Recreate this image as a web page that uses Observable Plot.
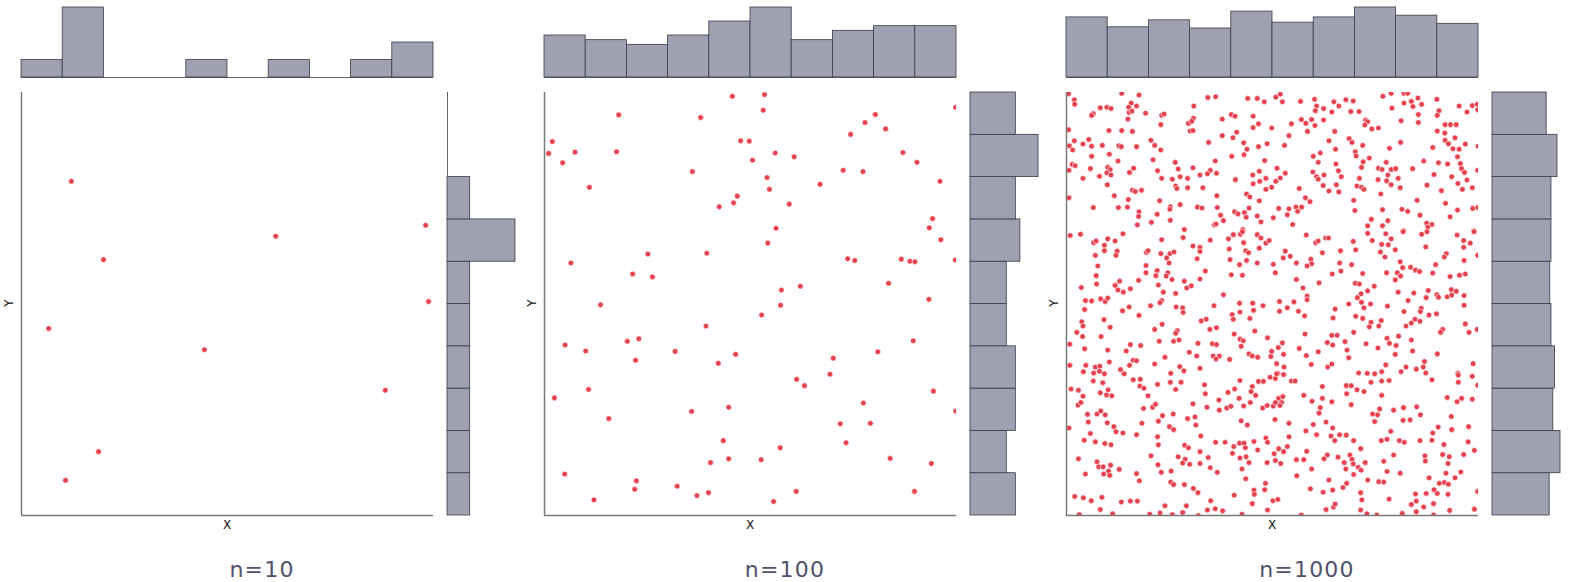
<!DOCTYPE html>
<html><head><meta charset="utf-8">
<script src="https://cdn.jsdelivr.net/npm/d3@7"></script>
<script src="https://cdn.jsdelivr.net/npm/@observablehq/plot@0.6"></script>
<style>
body{margin:0;background:#fff;}
#root{position:relative;width:1569px;height:582px;overflow:hidden;background:#fff;}
</style>
</head><body><div id="root"></div>
<script>
// ---------- data (values in 0–100 units) ----------
const titles = ["n=10", "n=100", "n=1000"];

const points10 = [[12.1,79.0],[19.9,60.5],[6.6,44.2],[61.7,66.0],[98.1,68.6],[98.8,50.6],[44.4,39.2],[88.3,29.6],[18.7,15.1],[10.7,8.3]];

const points100 = [[45.6,99.1],[18.0,94.7],[37.9,94.1],[1.9,88.4],[47.6,88.6],[49.7,88.5],[1.0,85.6],[7.4,85.9],[17.5,86.0],[4.4,83.4],[50.5,84.0],[35.9,81.3],[10.9,77.6],[46.8,75.5],[45.9,73.9],[42.4,73.0],[25.1,61.8],[39.4,62.0],[6.4,59.7],[21.4,57.1],[26.2,56.4],[13.6,49.8],[39.2,44.8],[5.0,40.3],[10.0,38.9],[20.1,41.2],[22.9,41.8],[22.1,36.7],[31.7,38.8],[46.4,38.1],[42.2,36.0],[2.4,27.8],[10.7,29.8],[15.6,22.9],[35.7,24.6],[44.7,25.6],[43.4,17.7],[40.3,12.5],[44.7,13.4],[4.9,9.8],[22.3,8.2],[21.9,6.2],[32.2,6.9],[37.0,4.7],[39.8,5.4],[12.0,3.7],
[53.4,99.5],[53.1,95.8],[99.8,96.5],[80.3,94.8],[77.8,92.9],[82.8,91.4],[74.3,90.1],[56.0,85.7],[60.6,84.8],[87.0,85.8],[90.4,83.5],[72.5,81.6],[77.3,81.3],[96.0,79.0],[54.0,79.9],[54.6,77.1],[66.9,78.3],[59.4,73.6],[94.2,70.2],[93.4,68.0],[96.2,65.2],[56.2,67.9],[54.2,64.4],[73.6,60.7],[75.3,60.3],[86.6,60.6],[88.7,60.1],[89.9,60.0],[99.7,60.4],[57.5,53.3],[62.1,54.2],[83.5,54.9],[57.3,49.7],[52.7,47.4],[93.3,51.1],[89.5,41.3],[80.9,38.7],[70.1,37.2],[69.3,33.4],[61.2,32.2],[63.1,30.7],[94.4,29.4],[99.8,24.7],[77.4,26.6],[71.8,21.7],[79.1,21.8],[73.2,17.2],[57.2,16.0],[52.6,13.2],[83.9,13.5],[93.9,12.3],[61.1,5.7],[89.8,5.7],[55.6,3.3]];

const points1000 = [
[0.5,99.7],[13.4,99.8],[17.6,99.4],[1.9,98.3],[2.0,97.2],[15.7,97.5],[17.0,96.8],[15.1,96.5],[30.9,96.8],[8.2,96.4],[9.8,96.5],[10.8,96.2],[6.5,95.0],[6.1,94.6],[15.2,95.3],[15.9,95.6],[19.2,95.1],[23.1,94.6],[23.7,94.9],[30.8,93.9],[14.9,93.7],[29.6,92.7],[30.4,93.2],[22.9,92.4],[0.5,91.2],[10.3,91.0],[13.4,91.0],[16.0,90.8],[30.0,90.9],[30.7,91.0],[5.4,88.9],[1.9,88.6],[20.5,88.7],[0.7,87.4],[4.0,87.8],[6.1,87.3],[8.7,87.5],[12.7,87.4],[13.3,87.2],[17.0,87.2],[21.4,87.5],[1.5,86.4],[22.9,86.4],[10.4,85.4],[6.1,84.9],[21.0,84.1],[12.5,83.8],[26.4,83.5],[1.4,83.0],[2.1,82.7],[5.8,82.0],[10.0,82.3],[10.6,81.8],[16.3,82.1],[0.6,81.6],[9.8,81.0],[10.8,80.5],[15.3,81.1],[22.1,81.5],[27.1,81.9],[30.7,82.2],[8.0,80.2],[4.0,79.7],[23.1,79.7],[25.7,79.5],[27.6,80.1],[29.4,79.7],[32.4,80.5],[9.9,78.2],[26.5,77.9],[26.8,77.3],[29.4,77.5],[16.0,76.9],[16.7,76.6],[18.2,76.9],[11.6,75.6],[0.6,75.1],[15.0,74.7],[22.6,74.4],[27.6,73.5],[6.5,72.8],[12.6,72.8],[14.8,72.9],[25.2,73.0],[25.1,72.4],[31.8,72.9],[17.6,71.8],[17.5,70.7],[22.0,71.2],[25.2,69.8],[20.6,69.3],[17.2,68.7],[28.6,67.6],
[34.3,98.8],[36.2,99.0],[44.0,98.6],[46.3,98.6],[48.0,97.8],[50.8,98.9],[51.9,99.6],[52.4,97.8],[56.8,97.9],[60.2,98.4],[60.7,96.8],[60.4,95.7],[62.4,96.2],[64.9,97.8],[66.1,96.8],[40.0,94.8],[40.9,94.4],[45.3,94.4],[37.8,93.7],[57.0,93.6],[58.1,92.7],[59.5,93.6],[60.3,92.2],[62.4,93.5],[64.4,95.4],[46.6,92.6],[45.3,91.7],[49.8,91.6],[54.6,92.6],[41.3,90.6],[40.4,89.3],[37.8,89.8],[58.5,90.8],[54.0,89.8],[65.1,90.8],[34.5,88.2],[43.0,88.1],[43.8,86.6],[46.6,87.2],[48.7,87.9],[52.9,87.5],[63.7,88.6],[65.3,86.6],[40.1,84.9],[43.1,85.3],[48.1,83.9],[61.6,85.7],[59.9,84.9],[36.1,83.8],[61.1,83.5],[65.4,83.1],[34.9,81.6],[34.2,80.8],[36.4,80.9],[51.1,82.1],[46.8,81.4],[45.2,80.5],[59.8,81.2],[66.0,81.5],[48.4,79.7],[46.9,79.0],[51.9,79.8],[53.1,80.9],[60.7,80.1],[61.1,79.5],[62.5,80.5],[41.0,79.4],[65.5,78.2],[33.1,77.5],[45.3,78.4],[50.8,79.0],[49.8,77.6],[48.4,77.1],[62.3,78.0],[56.5,77.3],[63.7,76.7],[66.1,76.5],[43.7,76.0],[44.5,75.3],[36.5,75.6],[46.8,74.4],[58.0,75.1],[59.1,74.2],[32.9,72.7],[36.6,72.8],[44.3,72.7],[51.5,72.6],[54.0,72.5],[55.7,72.9],[57.1,72.9],[56.1,71.9],[40.8,71.8],[41.6,71.3],[43.2,71.6],[43.6,70.5],[37.4,71.0],[46.3,70.8],[50.2,70.4],[53.6,71.1],[38.1,69.7],[47.2,69.4],[35.9,68.7],[36.3,68.9],[54.9,68.8],[42.8,67.6],
[67.8,98.3],[69.6,98.0],[69.0,95.5],[71.0,95.5],[76.8,99.1],[78.8,99.8],[81.9,99.8],[82.8,99.8],[79.0,96.3],[81.9,97.5],[83.7,97.9],[84.1,96.7],[85.3,98.7],[86.2,97.2],[89.9,98.4],[85.4,94.8],[85.4,92.9],[90.4,95.7],[90.0,94.6],[95.3,96.8],[97.2,95.4],[98.5,96.9],[99.7,97.2],[99.8,95.9],[72.6,93.5],[73.1,93.1],[72.4,92.3],[74.1,91.4],[75.7,91.6],[81.2,93.3],[91.9,92.4],[93.2,92.4],[94.6,92.4],[90.0,90.9],[91.8,90.4],[68.6,89.1],[69.3,88.2],[71.9,87.5],[81.1,88.2],[78.4,86.8],[88.9,87.0],[91.9,88.7],[92.7,87.9],[94.3,89.3],[93.8,86.7],[95.3,86.6],[96.8,87.8],[99.9,87.3],[70.1,86.0],[70.3,85.0],[73.5,84.5],[72.0,83.6],[77.6,83.5],[86.7,83.8],[90.3,83.4],[92.5,83.1],[94.9,84.8],[95.6,83.2],[95.9,82.0],[96.6,81.1],[99.8,81.6],[71.6,82.3],[75.7,82.1],[76.6,81.8],[78.8,81.8],[79.9,82.0],[84.0,82.0],[78.0,80.5],[66.7,80.1],[71.1,79.7],[75.6,79.4],[77.7,79.1],[80.5,79.7],[89.2,80.6],[93.5,80.1],[97.2,79.3],[78.8,78.2],[70.5,77.9],[71.6,77.6],[72.2,77.1],[81.0,77.5],[87.5,78.1],[95.0,78.5],[96.1,77.1],[98.5,77.5],[76.3,76.0],[91.0,76.8],[69.7,74.5],[85.1,74.5],[92.0,73.8],[70.0,72.1],[76.7,72.3],[81.4,72.4],[82.8,71.9],[85.8,71.0],[94.9,72.2],[93.1,70.6],[98.6,72.6],[99.8,72.8],[74.0,70.0],[78.0,69.7],[73.1,68.5],[76.7,68.5],[87.4,69.1],[88.7,68.8],[87.7,68.2],[81.8,67.3],[98.9,67.3],
[0.9,66.2],[3.4,66.5],[13.7,66.6],[6.6,64.5],[7.2,64.9],[10.0,65.4],[9.2,63.9],[9.2,62.6],[11.8,64.9],[12.3,62.5],[12.0,61.5],[7.0,61.5],[23.1,65.2],[28.3,65.7],[30.7,63.7],[32.4,63.4],[19.4,62.2],[19.8,62.6],[22.9,61.9],[25.1,61.9],[26.1,62.3],[24.3,60.9],[24.9,59.7],[31.7,60.7],[32.4,62.4],[7.6,59.0],[19.3,59.1],[19.3,57.4],[22.0,57.9],[21.7,56.7],[24.6,57.4],[24.2,56.6],[25.6,55.8],[7.2,56.7],[7.3,54.7],[17.5,55.6],[12.9,55.4],[11.8,54.4],[12.5,53.3],[13.8,52.8],[15.5,53.6],[22.3,54.5],[23.5,52.8],[28.6,55.4],[29.2,53.8],[30.3,54.3],[32.4,55.9],[3.6,53.9],[26.5,52.5],[4.6,50.8],[6.1,50.7],[8.3,51.2],[9.4,50.6],[10.0,51.4],[23.1,50.8],[22.7,50.3],[20.4,49.6],[26.6,49.3],[28.2,49.1],[28.3,48.0],[4.4,48.7],[13.6,48.4],[15.2,49.3],[17.6,47.3],[9.1,46.3],[3.7,45.8],[4.0,44.8],[10.6,44.5],[23.2,45.2],[21.4,44.0],[2.5,43.3],[3.9,42.3],[8.4,42.3],[26.9,43.7],[26.5,43.1],[0.8,40.5],[4.4,39.4],[10.0,39.1],[15.5,40.4],[18.0,40.2],[22.5,41.2],[26.0,41.2],[27.3,41.5],[31.9,40.7],[14.5,38.9],[29.8,38.6],[31.6,37.7],[23.9,37.4],[16.2,36.7],[17.0,36.6],[10.4,36.3],[0.8,35.5],[4.7,35.5],[7.0,35.1],[8.1,35.3],[8.0,34.1],[9.2,33.5],[15.3,35.5],[21.4,35.8],[13.1,34.5],[27.5,35.2],[28.5,34.2],[32.4,34.8],[4.1,34.0],[6.6,33.7],[14.0,33.5],[25.3,33.6],
[34.9,65.1],[39.3,65.4],[40.5,66.4],[42.2,66.5],[42.7,67.1],[46.3,66.4],[47.2,65.6],[48.4,64.4],[49.2,65.0],[43.0,64.5],[46.8,63.2],[39.5,63.0],[43.5,62.6],[44.2,62.1],[39.7,60.5],[42.0,59.3],[43.7,60.3],[46.3,59.7],[50.2,59.4],[50.7,57.4],[53.1,62.5],[52.6,60.9],[54.3,61.3],[55.8,59.7],[58.2,66.3],[60.5,64.5],[61.1,64.9],[62.9,65.6],[63.6,65.6],[62.1,62.1],[59.3,60.6],[59.5,59.5],[58.4,59.0],[64.5,57.1],[33.7,57.8],[40.0,56.9],[42.7,56.8],[55.8,55.8],[61.3,55.0],[57.4,53.8],[38.1,52.2],[58.4,51.9],[58.4,51.0],[35.8,49.6],[42.0,50.2],[45.2,50.2],[45.4,48.5],[42.1,48.1],[47.7,49.6],[51.7,50.6],[51.7,48.3],[53.6,49.1],[55.2,50.5],[56.3,48.3],[57.8,47.2],[65.2,48.8],[40.2,47.5],[40.5,46.4],[44.5,46.6],[64.7,46.7],[32.7,46.0],[33.9,46.4],[36.4,44.4],[34.8,44.0],[40.7,42.9],[45.7,43.6],[48.8,42.0],[42.1,41.7],[42.9,41.3],[42.4,40.0],[35.4,40.6],[36.4,40.4],[52.4,40.8],[51.4,39.7],[57.9,42.9],[56.5,39.5],[64.4,42.6],[65.7,42.6],[64.6,40.3],[63.3,40.9],[49.8,38.8],[49.6,37.6],[52.7,38.1],[44.3,38.2],[45.1,37.7],[46.4,37.4],[35.6,37.7],[37.1,37.7],[36.3,37.0],[39.6,36.9],[58.2,37.8],[61.1,38.7],[51.0,35.9],[52.8,35.1],[59.4,35.7],[63.4,35.1],[64.4,35.8],[51.3,33.6],
[73.1,66.7],[77.5,66.6],[78.8,65.4],[81.7,67.1],[86.2,66.5],[87.5,67.1],[94.8,66.3],[98.9,67.1],[69.6,64.8],[74.2,65.0],[76.5,64.1],[78.1,64.0],[66.5,62.6],[70.2,62.8],[76.2,62.3],[77.3,61.1],[79.8,62.8],[87.2,63.5],[96.4,65.0],[98.0,64.4],[96.4,63.4],[99.8,61.5],[92.2,61.9],[91.7,61.1],[96.5,60.3],[66.3,59.7],[69.2,59.3],[81.0,60.0],[81.6,58.6],[83.5,58.7],[84.7,58.0],[85.7,57.7],[89.6,59.3],[66.6,57.8],[71.9,57.2],[77.7,57.4],[80.3,57.4],[81.1,56.6],[79.8,55.7],[88.9,57.3],[93.1,56.5],[95.4,56.8],[96.8,57.1],[70.1,54.9],[71.1,54.7],[74.7,54.2],[73.1,53.1],[80.5,52.8],[84.3,52.6],[87.8,53.2],[89.9,52.2],[90.3,51.6],[92.4,51.7],[93.5,52.1],[93.4,53.4],[94.6,53.0],[96.5,52.0],[71.5,52.4],[70.6,51.5],[71.6,50.4],[73.8,50.0],[68.5,50.0],[82.9,50.8],[87.3,51.5],[72.2,49.1],[77.9,49.5],[86.1,49.0],[85.9,48.2],[81.9,48.2],[88.0,47.4],[89.8,47.7],[96.5,49.7],[70.2,47.1],[71.9,46.6],[73.9,45.7],[76.4,46.1],[75.8,44.8],[73.5,44.6],[84.6,46.4],[83.7,45.5],[85.8,45.9],[82.4,44.8],[96.8,45.3],[99.7,44.0],[91.3,44.0],[90.8,43.3],[97.7,43.3],[69.7,43.3],[80.6,42.4],[77.8,41.9],[78.4,40.7],[67.6,41.1],[72.7,40.6],[75.6,39.6],[80.0,40.2],[83.7,41.5],[84.0,38.9],[68.1,39.1],[68.5,37.3],[79.8,38.1],[90.0,38.2],[77.5,35.6],[86.9,36.4],[98.7,35.9],[82.4,35.1],[84.9,34.6],[86.6,35.1],[81.2,34.0],[70.9,33.7],[73.0,33.6],[74.8,33.5],[76.5,34.0],[87.2,33.7],[95.0,33.6],
[16.2,32.1],[17.9,32.2],[6.5,31.8],[8.8,31.4],[25.2,31.5],[27.8,31.5],[1.1,29.9],[2.9,29.6],[4.0,28.2],[8.2,29.0],[9.7,28.5],[11.0,28.3],[10.1,29.7],[17.8,30.6],[18.8,30.1],[19.8,28.3],[22.1,31.0],[26.5,29.8],[2.8,26.1],[3.5,26.7],[18.7,25.3],[20.9,25.6],[21.6,26.3],[30.7,26.4],[5.1,23.9],[7.4,24.0],[8.3,24.7],[9.4,23.8],[23.3,23.6],[22.3,22.3],[25.9,24.0],[29.4,22.9],[31.2,23.3],[5.3,22.1],[9.9,21.9],[18.3,21.8],[31.4,21.4],[11.5,21.0],[12.0,19.8],[13.7,19.5],[17.0,19.1],[25.0,21.0],[26.0,20.3],[0.6,20.7],[5.8,19.4],[22.1,18.6],[32.6,18.8],[4.3,17.8],[7.0,17.4],[9.3,17.0],[10.8,16.7],[22.3,16.7],[28.7,16.6],[29.6,16.0],[32.4,15.1],[20.5,14.1],[27.1,13.9],[28.8,13.3],[28.2,12.4],[29.9,12.1],[32.4,12.3],[2.9,13.4],[7.4,12.7],[7.8,11.5],[8.9,11.5],[10.7,11.9],[10.2,10.5],[9.0,9.8],[10.5,9.5],[12.8,10.9],[22.2,12.0],[23.0,10.2],[25.4,10.5],[4.6,9.8],[17.0,9.9],[17.7,8.2],[25.3,7.9],[26.0,7.3],[28.6,7.3],[30.8,6.4],[31.9,5.4],[2.0,4.5],[4.1,4.2],[6.0,3.5],[8.6,4.3],[13.3,3.2],[15.5,3.4],[17.2,3.4],[23.9,2.3],[29.1,2.3],[8.2,1.4],[22.7,0.6],[28.2,0.7],[3.1,0.2],[11.2,0.4],[20.2,0.3],[25.7,0.2],[32.0,0.0],
[42.1,31.9],[46.6,31.7],[47.8,31.7],[49.4,32.7],[50.7,32.4],[51.0,33.5],[52.7,33.3],[33.5,30.9],[33.7,28.8],[40.8,29.9],[39.2,29.1],[37.0,27.3],[45.1,30.5],[44.8,29.3],[45.9,28.4],[54.6,31.8],[55.5,31.8],[62.1,30.5],[41.9,27.7],[37.1,24.9],[34.1,25.6],[38.9,25.4],[39.9,25.8],[43.0,25.9],[44.6,26.7],[47.6,25.4],[48.7,26.0],[50.2,25.9],[50.7,26.7],[51.5,27.7],[52.5,28.1],[52.2,26.7],[51.8,26.0],[57.6,28.4],[59.6,27.0],[62.1,27.7],[64.4,26.9],[61.6,25.5],[61.3,24.2],[50.6,22.7],[42.4,22.4],[43.9,21.4],[54.0,21.8],[59.9,21.5],[63.0,22.1],[64.6,20.7],[58.1,20.0],[60.7,19.1],[64.2,18.8],[65.1,17.7],[36.2,17.3],[38.5,17.3],[40.6,16.3],[42.0,17.1],[43.1,17.1],[45.5,17.5],[48.4,18.3],[48.8,17.3],[54.0,18.6],[40.3,14.7],[42.1,13.6],[43.4,16.0],[43.6,13.9],[46.4,15.5],[50.4,14.6],[51.5,15.8],[52.7,15.1],[53.6,16.3],[58.3,15.2],[63.3,14.3],[62.5,13.4],[65.9,13.8],[34.4,13.7],[44.3,12.5],[48.7,12.5],[50.7,13.0],[52.0,12.3],[55.8,13.2],[57.6,13.2],[34.9,11.3],[36.6,10.2],[42.6,11.0],[43.5,8.7],[59.5,11.0],[55.9,9.4],[48.3,7.6],[45.5,6.0],[45.6,5.0],[48.1,6.1],[59.2,6.3],[63.7,8.4],[62.3,5.5],[64.6,6.0],[40.7,4.8],[45.1,2.8],[50.1,3.5],[51.3,3.8],[35.0,3.5],[34.2,1.3],[36.1,1.6],[37.9,1.1],[48.8,1.3],[42.6,0.3],[63.0,1.4],[64.8,2.0],[65.2,2.7],[57.0,0.1],
[76.5,31.8],[78.3,31.9],[73.9,31.5],[67.9,30.7],[69.1,30.7],[68.0,28.8],[70.5,29.7],[72.2,29.3],[76.5,28.4],[88.7,32.1],[95.1,31.5],[95.1,33.2],[98.5,32.9],[99.8,30.8],[69.1,26.2],[76.0,25.2],[74.3,24.0],[75.5,23.8],[74.8,22.2],[79.4,24.9],[81.8,25.5],[81.7,22.5],[83.4,22.6],[85.0,25.7],[85.9,23.8],[92.4,27.9],[94.8,26.9],[95.9,27.7],[98.5,27.5],[93.4,23.4],[90.2,20.9],[88.9,19.5],[93.5,20.3],[97.6,21.0],[78.7,19.9],[66.3,19.1],[67.9,19.0],[69.7,17.7],[76.4,17.7],[77.8,18.0],[80.8,17.7],[82.0,17.3],[85.8,17.7],[88.7,17.8],[91.6,16.8],[97.5,17.4],[99.0,15.4],[71.4,15.8],[79.4,14.3],[87.0,14.1],[87.1,12.9],[91.3,14.4],[92.9,13.9],[96.4,14.4],[68.8,14.3],[69.3,13.3],[67.4,12.5],[69.6,12.2],[67.8,11.0],[70.8,11.4],[71.5,10.7],[72.5,12.5],[77.0,12.8],[77.8,10.4],[81.0,10.0],[69.7,9.7],[92.6,12.3],[92.1,10.0],[95.7,10.3],[73.1,8.4],[75.8,8.0],[77.0,7.9],[88.0,8.9],[90.5,7.6],[91.7,7.8],[92.7,7.4],[94.3,8.9],[68.0,7.6],[67.1,6.6],[71.4,5.4],[71.7,3.7],[78.3,3.9],[84.7,5.1],[87.3,5.2],[89.2,6.1],[90.0,5.2],[92.6,5.0],[99.8,5.7],[83.7,2.6],[84.9,3.4],[86.7,2.0],[89.1,2.8],[71.4,1.3],[72.9,0.4],[75.3,0.1],[81.5,0.5],[84.9,0.9],[93.0,1.2],[99.0,1.5],[89.1,0.1]
];

// histogram counts per 10-unit bin (low -> high)
const xCounts10 = [1,4,0,0,1,0,1,0,1,2];
const yCounts10 = [1,1,1,1,1,1,3,1,0,0];
const xCounts100 = [9,8,7,9,12,15,8,10,11,11];
const yCounts100 = [10,8,10,10,8,8,11,10,15,10];
const xCounts1000 = [103,86,98,84,113,94,103,120,106,92];
const yCounts1000 = [95,113,101,104,98,96,98,98,108,90];

const binEdges = [0,10,20,30,40,50,60,70,80,90,100];

// ---------- styling ----------
const RED = "#e6414f";
const HIST = "#9fa1b3";
const EDGE = "#3a3a46";
const AXIS = "#7a7a7a";
const TITLE = "#50516d";
const FONT = "'DejaVu Sans', sans-serif";

const panels = [
  {title: titles[0], pts: points10, xc: xCounts10, yc: yCounts10},
  {title: titles[1], pts: points100, xc: xCounts100, yc: yCounts100},
  {title: titles[2], pts: points1000, xc: xCounts1000, yc: yCounts1000}
];
const offsets = [0, 523, 1045];

const root = document.getElementById("root");
function place(node, left, top) {
  node.style.position = "absolute";
  node.style.left = left + "px";
  node.style.top = top + "px";
  root.appendChild(node);
}

const PW = 412, PH = 423; // scatter frame
panels.forEach((p, i) => {
  const off = offsets[i];
  const xb = p.xc.map((c, k) => ({lo: binEdges[k], hi: binEdges[k + 1], count: c}));
  const yb = p.yc.map((c, k) => ({lo: binEdges[k], hi: binEdges[k + 1], count: c}));

  // top histogram
  const top = Plot.plot({
    width: PW + 4, height: 70 + 4,
    marginTop: 2, marginBottom: 2, marginLeft: 2, marginRight: 2,
    x: {domain: [0, 100], axis: null},
    y: {domain: [0, d3.max(p.xc)], axis: null},
    marks: [
      Plot.ruleY([0], {stroke: EDGE, strokeWidth: 0.8}),
      Plot.rect(xb, {x1: "lo", x2: "hi", y1: 0, y2: "count", fill: HIST, stroke: EDGE, strokeWidth: 0.8})
    ]
  });
  place(top, 21 + off - 2, 7 - 2);

  // right histogram
  const right = Plot.plot({
    width: 68 + 4, height: PH + 4,
    marginTop: 2, marginBottom: 2, marginLeft: 2, marginRight: 2,
    x: {domain: [0, d3.max(p.yc)], axis: null},
    y: {domain: [0, 100], axis: null},
    marks: [
      Plot.ruleX([0], {stroke: EDGE, strokeWidth: 0.8}),
      Plot.rect(yb, {y1: "lo", y2: "hi", x1: 0, x2: "count", fill: HIST, stroke: EDGE, strokeWidth: 0.8})
    ]
  });
  place(right, 447 + off - 2, 92 - 2);

  // scatter
  const sc = Plot.plot({
    width: PW + 10, height: PH + 10,
    marginTop: 5, marginBottom: 5, marginLeft: 5, marginRight: 5,
    x: {domain: [0, 100], axis: null},
    y: {domain: [0, 100], axis: null},
    marks: [
      Plot.dot(p.pts, {x: d => d[0], y: d => d[1], r: 2.8, fill: RED, stroke: "white", strokeWidth: 0.6, clip: true}),
      Plot.ruleX([0], {stroke: AXIS, strokeWidth: 1.5}),
      Plot.ruleY([0], {stroke: AXIS, strokeWidth: 1.5})
    ]
  });
  place(sc, 21 + off - 5, 92 - 5);
});

// text overlay
const ov = d3.create("svg").attr("width", 1569).attr("height", 582)
  .style("position", "absolute").style("left", "0px").style("top", "0px").style("pointer-events", "none");
panels.forEach((p, i) => {
  const off = offsets[i];
  ov.append("text").attr("x", 227 + off).attr("y", 529).attr("text-anchor", "middle")
    .attr("font-family", FONT).attr("font-size", 12).attr("fill", "#111").text("X");
  ov.append("text").attr("transform", `translate(${13 + off},303) rotate(-90)`).attr("text-anchor", "middle")
    .attr("font-family", FONT).attr("font-size", 12).attr("fill", "#111").text("Y");
  ov.append("text").attr("x", 262 + off).attr("y", 577).attr("text-anchor", "middle")
    .attr("font-family", FONT).attr("font-size", 22).attr("letter-spacing", "1.2px")
    .attr("fill", TITLE).text(p.title);
});
root.appendChild(ov.node());
</script>
</body></html>
